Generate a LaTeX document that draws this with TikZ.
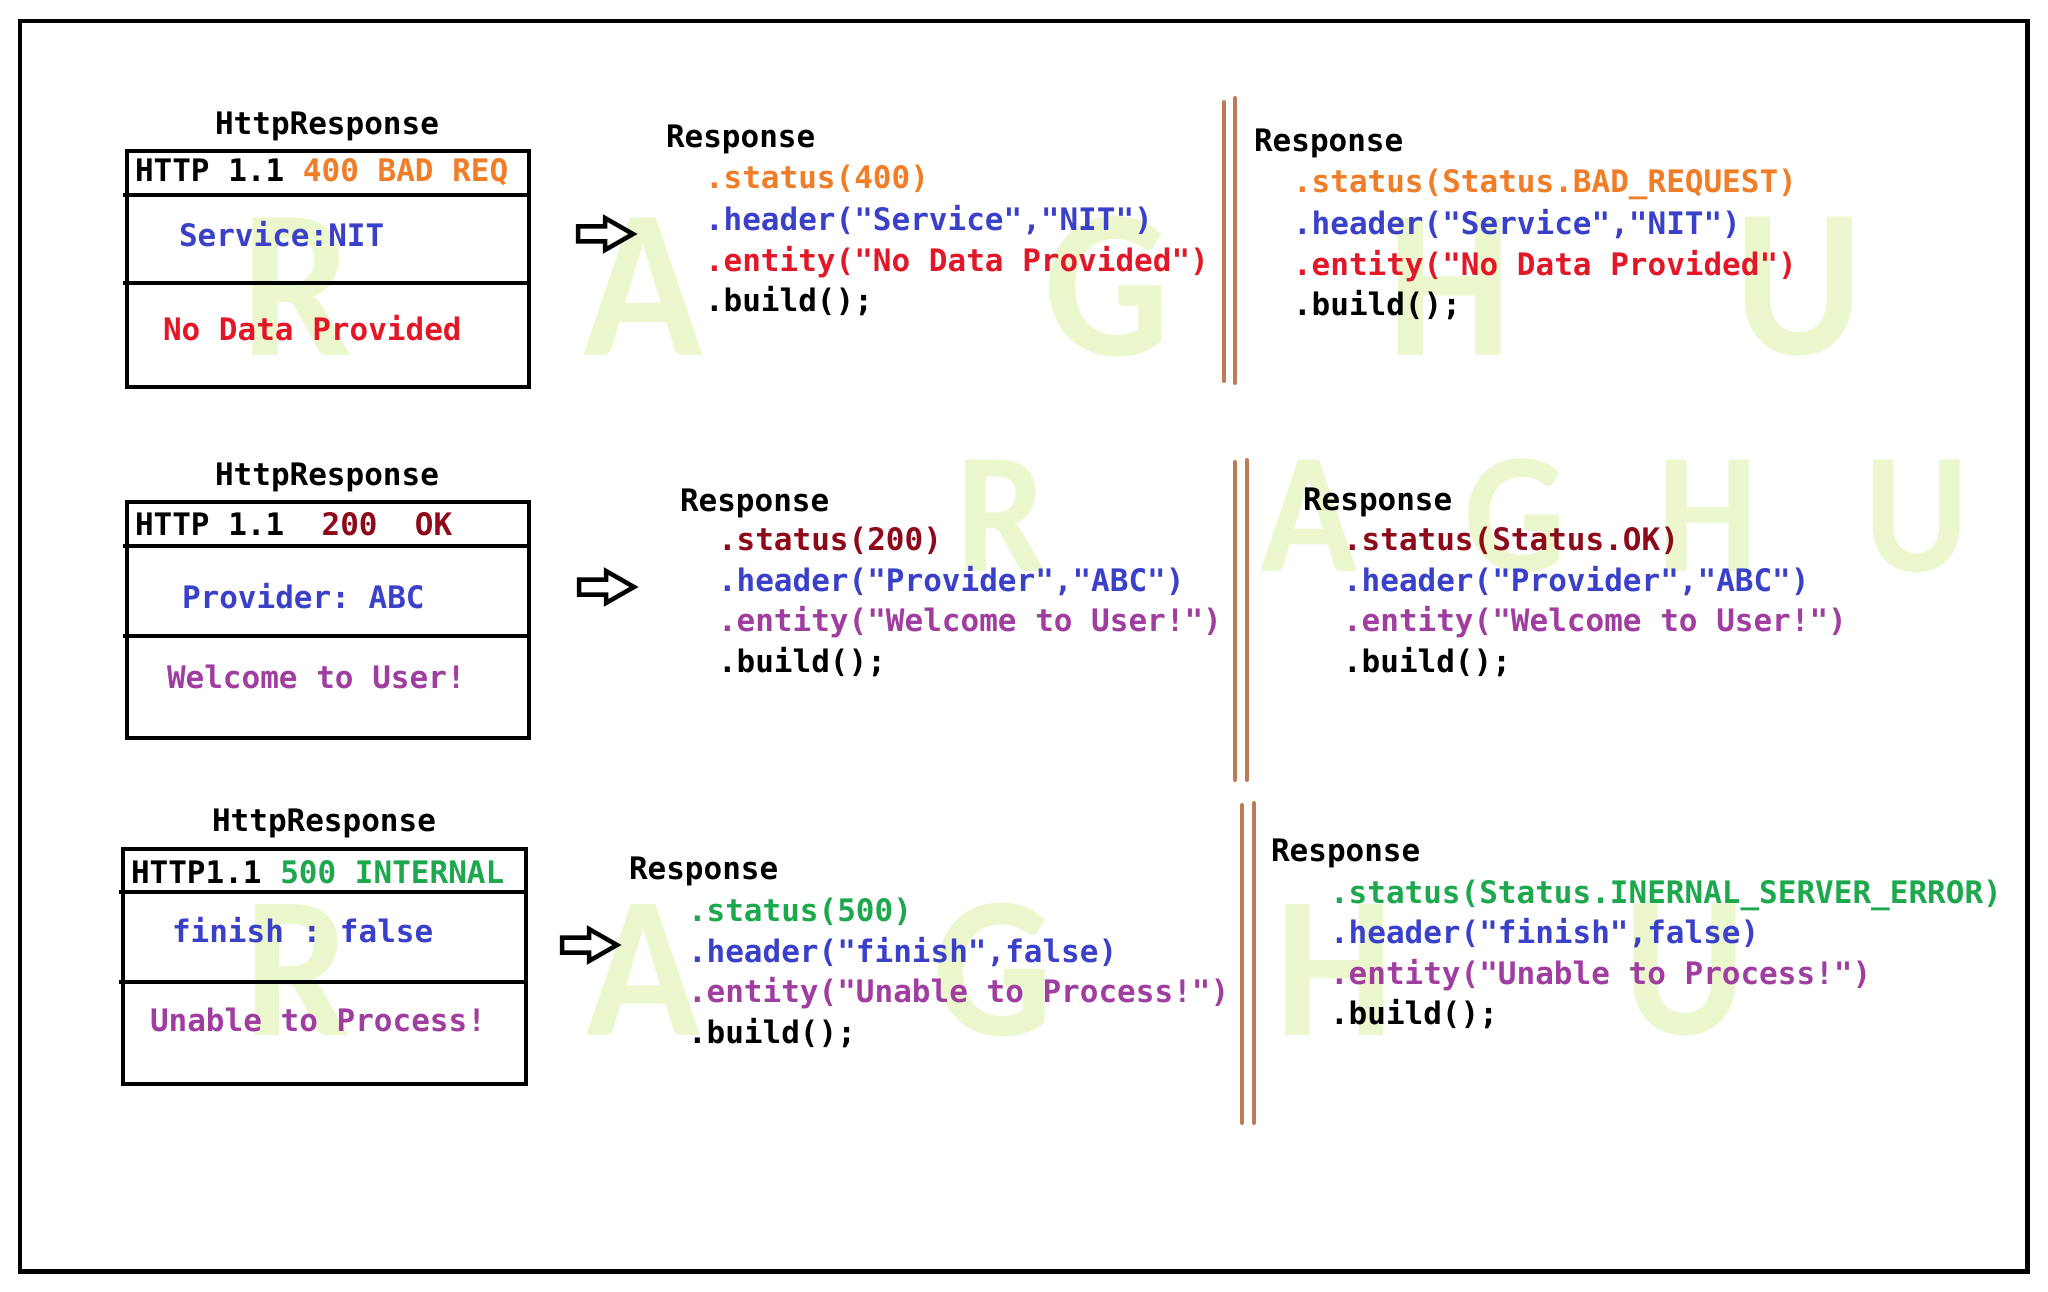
\documentclass[tikz,border=0pt]{standalone}
\usepackage{fontspec}
\setmonofont{DejaVu Sans Mono}
\newfontfamily\wmfam{Carlito}
\definecolor{corange}{RGB}{240,125,40}
\definecolor{cblue}{RGB}{58,65,200}
\definecolor{cred}{RGB}{226,24,40}
\definecolor{cdkred}{RGB}{140,10,25}
\definecolor{cpurple}{RGB}{160,62,160}
\definecolor{cgreen}{RGB}{30,168,78}
\definecolor{cbrown}{RGB}{192,122,88}
\definecolor{wmgreen}{RGB}{236,247,206}
\newcommand\mycode{\ttfamily\bfseries\fontsize{31}{38}\selectfont}
\newcommand\mywmbig{\wmfam\bfseries\fontsize{212}{212}\selectfont}
\newcommand\mywmmid{\wmfam\bfseries\fontsize{172}{172}\selectfont}
\newcommand\mywmlow{\wmfam\bfseries\fontsize{202}{202}\selectfont}
\tikzset{
  txt/.style={inner sep=0pt, outer sep=0pt, anchor=base west, font=\mycode},
  ttl/.style={inner sep=0pt, outer sep=0pt, anchor=base, font=\mycode},
  wm/.style={inner sep=0pt, outer sep=0pt, anchor=center, text=wmgreen, xscale=0.93},
  hbox/.style={draw, line width=4.8pt, inner sep=0pt, outer sep=0pt, anchor=north west},
  divl/.style={line width=4.8pt},
  dline/.style={draw=cbrown, line width=4pt, line cap=round},
  frame/.style={draw, line width=4.5pt},
  barrow/.pic={\draw[line width=4.5pt, line join=miter] (0,-7.5) -- (27,-7.5) -- (27,-16) -- (55,0) -- (27,16) -- (27,7.5) -- (0,7.5) -- cycle;}
}
\begin{document}
\begin{tikzpicture}[x=1pt,y=-1pt]
\useasboundingbox (0,0) rectangle (2048,1292);
\fill[white] (0,0) rectangle (2048,1292);
% watermarks
\node[wm, font=\mywmbig] (w1r) at (297,287) {R};
\node[wm, font=\mywmbig] (w1a) at (643,287) {A};
\node[wm, font=\mywmbig] (w1g) at (1107,287) {G};
\node[wm, font=\mywmbig] (w1h) at (1450,287) {H};
\node[wm, font=\mywmbig] (w1u) at (1799,287) {U};
\node[wm, font=\mywmmid] (w2r) at (1002,516) {R};
\node[wm, font=\mywmmid] (w2a) at (1309,516) {A};
\node[wm, font=\mywmmid] (w2g) at (1515,516) {G};
\node[wm, font=\mywmmid] (w2h) at (1708,516) {H};
\node[wm, font=\mywmmid] (w2u) at (1917,516) {U};
\node[wm, font=\mywmlow] (w3r) at (297,970) {R};
\node[wm, font=\mywmlow] (w3a) at (643,970) {A};
\node[wm, font=\mywmlow] (w3g) at (993,970) {G};
\node[wm, font=\mywmlow] (w3h) at (1335,970) {H};
\node[wm, font=\mywmlow] (w3u) at (1685,970) {U};
% outer frame
\node[frame, anchor=north west, inner sep=0pt, minimum width=2007.5pt, minimum height=1250pt] (outer) at (17.5,19) {};
% ===== Row 1 =====
\node[ttl] (t1) at (327,135) {HttpResponse};
\node[hbox, minimum width=402pt, minimum height=236pt] (box1) at (127,151) {};
\draw[divl] (123,195) -- (529,195);
\draw[divl] (123,283) -- (529,283);
\node[txt] (h1) at (135,182) {HTTP 1.1 \textcolor{corange}{400 BAD REQ}};
\node[txt, text=cblue] (s1) at (179,247) {Service:NIT};
\node[txt, text=cred] (e1) at (163,340) {No Data Provided};
\pic at (578,234) {barrow};
\node[txt] (m1r) at (666,148) {Response};
\node[txt, text=corange] (m1s) at (705,189) {.status(400)};
\node[txt, text=cblue] (m1h) at (705,230) {.header("Service","NIT")};
\node[txt, text=cred] (m1e) at (705,271) {.entity("No Data Provided")};
\node[txt] (m1b) at (705,311) {.build();};
\draw[dline] (1224,102) -- (1224,381);
\draw[dline] (1235,98) -- (1235,383);
\node[txt] (r1r) at (1254,152) {Response};
\node[txt, text=corange] (r1s) at (1293,193) {.status(Status.BAD\_REQUEST)};
\node[txt, text=cblue] (r1h) at (1293,234) {.header("Service","NIT")};
\node[txt, text=cred] (r1e) at (1293,275) {.entity("No Data Provided")};
\node[txt] (r1b) at (1293,315) {.build();};
% ===== Row 2 =====
\node[ttl] (t2) at (327,485) {HttpResponse};
\node[hbox, minimum width=402pt, minimum height=236pt] (box2) at (127,502) {};
\draw[divl] (123,546) -- (529,546);
\draw[divl] (123,636) -- (529,636);
\node[txt] (h2) at (135,535) {HTTP 1.1~~\textcolor{cdkred}{200~~OK}};
\node[txt, text=cblue] (s2) at (182,608) {Provider: ABC};
\node[txt, text=cpurple] (e2) at (167,688) {Welcome to User!};
\pic at (579,587) {barrow};
\node[txt] (m2r) at (680,511) {Response};
\node[txt, text=cdkred] (m2s) at (718,550) {.status(200)};
\node[txt, text=cblue] (m2h) at (718,591) {.header("Provider","ABC")};
\node[txt, text=cpurple] (m2e) at (718,631) {.entity("Welcome to User!")};
\node[txt] (m2b) at (718,672) {.build();};
\draw[dline] (1235,462) -- (1235,780);
\draw[dline] (1247,460) -- (1247,780);
\node[txt] (r2r) at (1303,510) {Response};
\node[txt, text=cdkred] (r2s) at (1343,550) {.status(Status.OK)};
\node[txt, text=cblue] (r2h) at (1343,591) {.header("Provider","ABC")};
\node[txt, text=cpurple] (r2e) at (1343,631) {.entity("Welcome to User!")};
\node[txt] (r2b) at (1343,672) {.build();};
% ===== Row 3 =====
\node[ttl] (t3) at (324,831) {HttpResponse};
\node[hbox, minimum width=403pt, minimum height=235pt] (box3) at (123,849) {};
\draw[divl] (119,892) -- (526,892);
\draw[divl] (119,982) -- (526,982);
\node[txt] (h3) at (131,883) {HTTP1.1 \textcolor{cgreen}{500 INTERNAL}};
\node[txt, text=cblue] (s3) at (172,942) {finish : false};
\node[txt, text=cpurple] (e3) at (150,1031) {Unable to Process!};
\pic at (562,945) {barrow};
\node[txt] (m3r) at (629,879) {Response};
\node[txt, text=cgreen] (m3s) at (688,921) {.status(500)};
\node[txt, text=cblue] (m3h) at (688,962) {.header("finish",false)};
\node[txt, text=cpurple] (m3e) at (688,1002) {.entity("Unable to Process!")};
\node[txt] (m3b) at (688,1043) {.build();};
\draw[dline] (1242,805) -- (1242,1123);
\draw[dline] (1254,803) -- (1254,1123);
\node[txt] (r3r) at (1271,861) {Response};
\node[txt, text=cgreen] (r3s) at (1330,903) {.status(Status.INERNAL\_SERVER\_ERROR)};
\node[txt, text=cblue] (r3h) at (1330,943) {.header("finish",false)};
\node[txt, text=cpurple] (r3e) at (1330,984) {.entity("Unable to Process!")};
\node[txt] (r3b) at (1330,1024) {.build();};
\end{tikzpicture}
\end{document}
